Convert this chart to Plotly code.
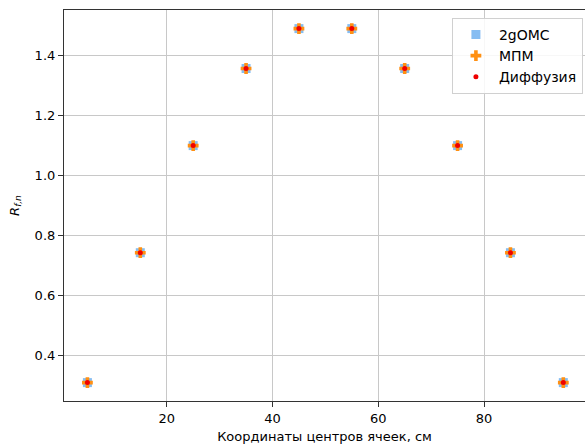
import plotly.graph_objects as go

x_cells = [5, 15, 25, 35, 45, 55, 65, 75, 85, 95]
r_2gomc = [0.310, 0.743, 1.100, 1.357, 1.490, 1.490, 1.357, 1.100, 0.743, 0.310]
r_mpm = [0.310, 0.743, 1.100, 1.357, 1.490, 1.490, 1.357, 1.100, 0.743, 0.310]
r_diff = [0.310, 0.743, 1.100, 1.357, 1.490, 1.490, 1.357, 1.100, 0.743, 0.310]

font_family = "DejaVu Sans"

fig = go.Figure()
fig.add_trace(go.Scatter(x=x_cells, y=r_2gomc, mode="markers", name="2gOMC",
                         marker=dict(symbol="square", size=9, color="#86bdf2")))
fig.add_trace(go.Scatter(x=x_cells, y=r_mpm, mode="markers", name="МПМ",
                         marker=dict(symbol="cross", size=9, color="#ff9013")))
fig.add_trace(go.Scatter(x=x_cells, y=r_diff, mode="markers", name="Диффузия",
                         marker=dict(symbol="circle", size=5, color="#ee0000")))

fig.update_layout(
    width=585, height=444,
    margin=dict(l=64, r=0, t=10, b=43),
    paper_bgcolor="white", plot_bgcolor="white",
    font=dict(family=font_family, size=13, color="#000000"),
    showlegend=True,
    legend=dict(x=0.996, y=0.98, xanchor="right", yanchor="top",
                bgcolor="rgba(255,255,255,0.85)", bordercolor="#d0d0d0", borderwidth=1,
                font=dict(family=font_family, size=14), tracegroupgap=0,
                itemwidth=36),
)
fig.update_xaxes(
    range=[0.57, 99.1], tickvals=[20, 40, 60, 80],
    showgrid=True, gridcolor="#c8c8c8", gridwidth=1,
    showline=True, linecolor="#333333", linewidth=1.2, mirror=True,
    ticks="outside", ticklen=5, tickcolor="#333333", zeroline=False,
    automargin=False,
    title=dict(text="Координаты центров ячеек, см", standoff=10,
               font=dict(family=font_family, size=13)),
)
fig.update_yaxes(
    range=[0.2487, 1.552], tickvals=[0.4, 0.6, 0.8, 1.0, 1.2, 1.4],
    ticktext=["0.4", "0.6", "0.8", "1.0", "1.2", "1.4"],
    showgrid=True, gridcolor="#c8c8c8", gridwidth=1,
    showline=True, linecolor="#333333", linewidth=1.2, mirror=False,
    ticks="outside", ticklen=5, tickcolor="#333333", zeroline=False,
    automargin=False,
    title=dict(text="<i>R</i><sub><i>f,n</i></sub>", standoff=12,
               font=dict(family=font_family, size=13)),
)

fig.write_html("out.html", config={"displayModeBar": False},
               post_script="document.body.style.margin='0';document.body.style.overflow='hidden';")
